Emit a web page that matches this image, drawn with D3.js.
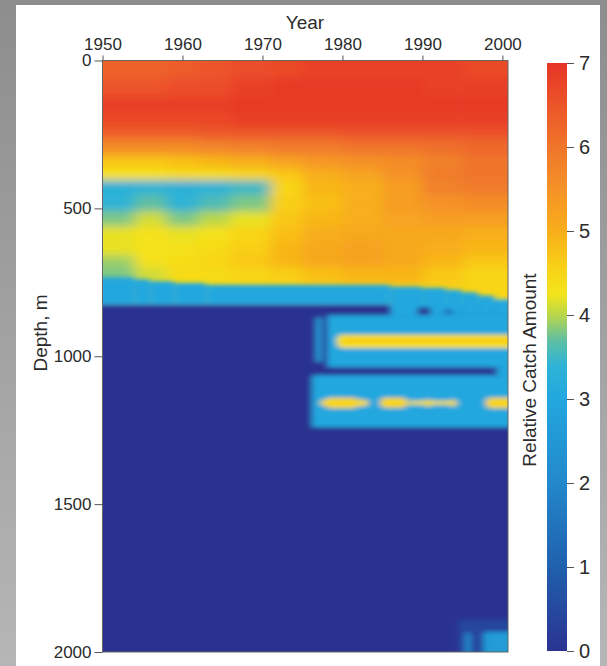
<!DOCTYPE html>
<html>
<head>
<meta charset="utf-8">
<title>Relative catch by depth and year</title>
<style>
  html, body { margin: 0; padding: 0; background: #fff; }
  svg text { font-family: "Liberation Sans", Arial, Helvetica, sans-serif; fill: #2b2b2b; }
  .axis path { display: none; }
  .axis line { stroke: #555; }
</style>
</head>
<body>
<script src="https://cdn.jsdelivr.net/npm/d3@7"></script>
<script>
// ---------- data ----------
var yearTicks = [1950, 1960, 1970, 1980, 1990, 2000];
var depthTicks = [0, 500, 1000, 1500, 2000];
var catchTicks = [0, 1, 2, 3, 4, 5, 6, 7];

// upper water column: year groups x depth rows
var yearEdges = [1950, 1954, 1958, 1962, 1966, 1971, 1975, 1980, 1985, 1990, 1995, 2001];
var depthEdges = [0, 60, 120, 180, 230, 270, 320, 365, 405, 455, 510, 560, 610, 660, 700, 760, 820];
var upperValues = [
  [6.3, 6.3, 6.4, 6.5, 6.6, 6.7, 6.8, 6.8, 6.8, 6.8, 6.7],
  [6.5, 6.5, 6.6, 6.6, 6.8, 6.9, 6.9, 6.9, 6.9, 6.8, 6.8],
  [6.8, 6.8, 6.8, 6.8, 6.9, 6.9, 6.9, 6.9, 6.9, 6.9, 6.9],
  [6.7, 6.7, 6.7, 6.7, 6.8, 6.8, 6.8, 6.8, 6.8, 6.8, 6.8],
  [6.3, 6.3, 6.3, 6.4, 6.4, 6.4, 6.4, 6.5, 6.5, 6.5, 6.5],
  [5.6, 5.6, 5.6, 5.7, 5.8, 5.9, 5.9, 6.0, 6.0, 6.1, 6.2],
  [4.7, 4.7, 4.8, 4.9, 5.0, 5.2, 5.4, 5.5, 5.6, 5.8, 6.0],
  [4.3, 4.3, 4.4, 4.4, 4.5, 4.7, 5.0, 5.2, 5.5, 5.9, 6.0],
  [3.3, 3.4, 3.3, 3.4, 3.5, 4.5, 4.9, 5.0, 5.3, 5.8, 5.9],
  [3.4, 3.7, 3.4, 3.6, 3.8, 4.6, 4.8, 5.0, 5.3, 5.5, 5.6],
  [3.8, 4.1, 3.8, 4.0, 4.2, 4.7, 4.9, 5.0, 5.2, 5.3, 5.3],
  [4.2, 4.3, 4.2, 4.3, 4.5, 4.8, 5.0, 5.1, 5.1, 5.1, 5.0],
  [4.2, 4.3, 4.3, 4.4, 4.6, 4.9, 5.1, 5.2, 5.1, 5.0, 4.9],
  [3.9, 4.3, 4.4, 4.5, 4.7, 4.9, 5.1, 5.2, 5.1, 4.9, 4.7],
  [3.8, 4.1, 4.4, 4.4, 4.5, 4.6, 4.8, 4.9, 4.9, 4.7, 4.5],
  [4.4, 4.4, 4.4, 4.4, 4.4, 4.4, 4.4, 4.4, 4.5, 4.5, 4.5]
];

// deeper layers: [yearFrom, yearTo, depthFrom, depthTo, value], later ones drawn on top
var deepPatches = [
  [1950, 2001, 825, 2000, 0.0],
  [1950, 1954, 733, 825, 3.0],
  [1954, 1956, 740, 825, 3.0],
  [1956, 1959, 746, 825, 3.0],
  [1959, 1963, 752, 825, 3.0],
  [1963, 1986, 758, 825, 3.0],
  [1986, 1990, 764, 862, 3.0],
  [1990, 1993, 768, 862, 3.0],
  [1993, 1995, 775, 862, 3.0],
  [1995, 1997, 784, 862, 3.0],
  [1997, 1999, 795, 862, 3.0],
  [1999, 2001, 808, 862, 3.0],
  [1989.4, 1991, 834, 861, 0.1],
  [1992.6, 1993.9, 845, 855, 0.4],
  [1978.1, 2001, 861, 1037, 3.0],
  [1976.7, 1977.4, 868, 1020, 2.8],
  [1979.3, 2001, 927, 972, 4.3],
  [1980, 2001, 937, 958, 4.6],
  [1999.3, 2001, 1037, 1064, 3.0],
  [1976.2, 2001, 1064, 1240, 3.0],
  [1977.2, 1983.3, 1147, 1168, 4.4],
  [1977.8, 1982.0, 1140, 1176, 4.5],
  [1984.7, 1988.1, 1140, 1174, 4.5],
  [1988.1, 1994.4, 1151, 1164, 4.3],
  [1990.2, 1991.2, 1146, 1170, 4.4],
  [1993.4, 1994.2, 1146, 1170, 4.4],
  [1997.9, 2001, 1140, 1176, 4.5],
  [1994.5, 2001, 1890, 2000, 0.4],
  [1995.3, 1996.1, 1935, 2000, 2.0],
  [1997.6, 2001, 1932, 2000, 2.6]
];

// colour map of the bar
var cmapValues = [0, 1, 2, 3, 3.4, 3.7, 4.0, 4.25, 4.6, 5.0, 5.5, 6.0, 6.5, 7];
var cmapColors = ["#2b3391", "#2060ad", "#2388cc", "#22a7df", "#2fb3d6", "#5fbfa3", "#b9d74a",
                  "#f4e41b", "#f9cf17", "#f8ae1a", "#f59228", "#f0752a", "#ec5529", "#e63427"];

// ---------- size ----------
var svgWidth = 607, svgHeight = 666;
var plot = { left: 102.5, right: 508, top: 60.5, bottom: 652 };
var bar = { left: 547, right: 567, top: 63, bottom: 651 };

var x = d3.scaleLinear().domain([1950, 2000.7]).range([plot.left, plot.right]);
var y = d3.scaleLinear().domain([0, 2000]).range([plot.top, plot.bottom]);
var color = d3.scaleLinear().domain(cmapValues).range(cmapColors).clamp(true);
var cy = d3.scaleLinear().domain([0, 7]).range([bar.bottom, bar.top]);

var svg = d3.select("body").append("svg")
    .attr("width", svgWidth).attr("height", svgHeight);

var defs = svg.append("defs");

// grey slide background
var bg = defs.append("linearGradient").attr("id", "bgGrad")
    .attr("x1", 0).attr("y1", 0).attr("x2", 0).attr("y2", 1);
bg.append("stop").attr("offset", 0).attr("stop-color", "#8d8d8d");
bg.append("stop").attr("offset", 1).attr("stop-color", "#b6b6b6");
svg.append("rect").attr("width", svgWidth).attr("height", svgHeight).attr("fill", "url(#bgGrad)");
svg.append("rect").attr("x", 16).attr("y", 5).attr("width", 584).attr("height", 661).attr("fill", "#fff");

// blur filters to get the smooth look of the gridded field
defs.append("filter").attr("id", "blurUpper")
    .attr("x", "-10%").attr("y", "-10%").attr("width", "120%").attr("height", "120%")
    .append("feGaussianBlur").attr("stdDeviation", "7 4");
defs.append("filter").attr("id", "blurDeep")
    .attr("x", "-10%").attr("y", "-10%").attr("width", "120%").attr("height", "120%")
    .append("feGaussianBlur").attr("stdDeviation", "3 2.2");
defs.append("clipPath").attr("id", "plotClip")
    .append("rect").attr("x", plot.left).attr("y", plot.top)
    .attr("width", plot.right - plot.left).attr("height", plot.bottom - plot.top);

// cells touching the frame are pushed out a bit so the blur does not fade at the edges
var pad = 20;
function cellRect(y0, y1, d0, d1) {
  var xa = x(y0), xb = x(y1), ya = y(d0), yb = y(d1);
  if (y0 <= 1950) xa -= pad;
  if (y1 >= 2000.7) xb += pad;
  if (d0 <= 0) ya -= pad;
  if (d1 >= 2000) yb += pad;
  return { x: xa, y: ya, w: xb - xa, h: yb - ya };
}

var field = svg.append("g").attr("clip-path", "url(#plotClip)");

var upperCells = [];
upperValues.forEach(function (row, r) {
  row.forEach(function (v, c) {
    upperCells.push({ y0: yearEdges[c], y1: yearEdges[c + 1], d0: depthEdges[r], d1: depthEdges[r + 1], v: v });
  });
});

field.append("g").attr("filter", "url(#blurUpper)")
  .selectAll("rect").data(upperCells).enter().append("rect")
    .each(function (d) {
      var b = cellRect(d.y0, d.y1, d.d0, d.d1);
      d3.select(this).attr("x", b.x).attr("y", b.y).attr("width", b.w + 0.5).attr("height", b.h + 0.5);
    })
    .attr("fill", function (d) { return color(d.v); });

field.append("g").attr("filter", "url(#blurDeep)")
  .selectAll("rect").data(deepPatches).enter().append("rect")
    .each(function (d) {
      var b = cellRect(d[0], d[1], d[2], d[3]);
      d3.select(this).attr("x", b.x).attr("y", b.y).attr("width", b.w).attr("height", b.h);
    })
    .attr("rx", function (d) { return d[4] > 4 ? 5 : 2; })
    .attr("fill", function (d) { return color(d[4]); });

// frame
svg.append("rect").attr("x", plot.left).attr("y", plot.top)
    .attr("width", plot.right - plot.left).attr("height", plot.bottom - plot.top)
    .attr("fill", "none").attr("stroke", "#666").attr("stroke-width", 1);

// axes
var xAxis = d3.axisTop(x).tickValues(yearTicks).tickFormat(d3.format("d"))
    .tickSize(5).tickSizeOuter(0).tickPadding(6);
svg.append("g").attr("class", "axis")
    .attr("transform", "translate(0," + plot.top + ")")
    .call(xAxis)
    .selectAll("text").style("font-size", "17px").attr("fill", "#2b2b2b");

var yAxis = d3.axisLeft(y).tickValues(depthTicks).tickFormat(d3.format("d"))
    .tickSize(8).tickSizeOuter(0).tickPadding(3);
svg.append("g").attr("class", "axis")
    .attr("transform", "translate(" + plot.left + ",0)")
    .call(yAxis)
    .selectAll("text").style("font-size", "17px").attr("fill", "#2b2b2b");

svg.append("text").attr("x", 305).attr("y", 29).attr("text-anchor", "middle")
    .style("font-size", "19px").text("Year");
svg.append("text").attr("transform", "translate(47,333) rotate(-90)")
    .attr("text-anchor", "middle").style("font-size", "19px").text("Depth, m");

// colour bar
var grad = defs.append("linearGradient").attr("id", "barGrad")
    .attr("x1", 0).attr("y1", 1).attr("x2", 0).attr("y2", 0);
cmapValues.forEach(function (v, i) {
  grad.append("stop").attr("offset", v / 7).attr("stop-color", cmapColors[i]);
});
svg.append("rect").attr("x", bar.left).attr("y", bar.top)
    .attr("width", bar.right - bar.left).attr("height", bar.bottom - bar.top)
    .attr("fill", "url(#barGrad)");

var cAxis = d3.axisRight(cy).tickValues(catchTicks).tickFormat(d3.format("d"))
    .tickSize(7).tickSizeOuter(0).tickPadding(5);
svg.append("g").attr("class", "axis")
    .attr("transform", "translate(" + bar.right + ",0)")
    .call(cAxis)
    .selectAll("text").style("font-size", "20px").attr("fill", "#2b2b2b");

svg.append("text").attr("transform", "translate(536,370) rotate(-90)")
    .attr("text-anchor", "middle").style("font-size", "19px").text("Relative Catch Amount");
</script>
</body>
</html>
